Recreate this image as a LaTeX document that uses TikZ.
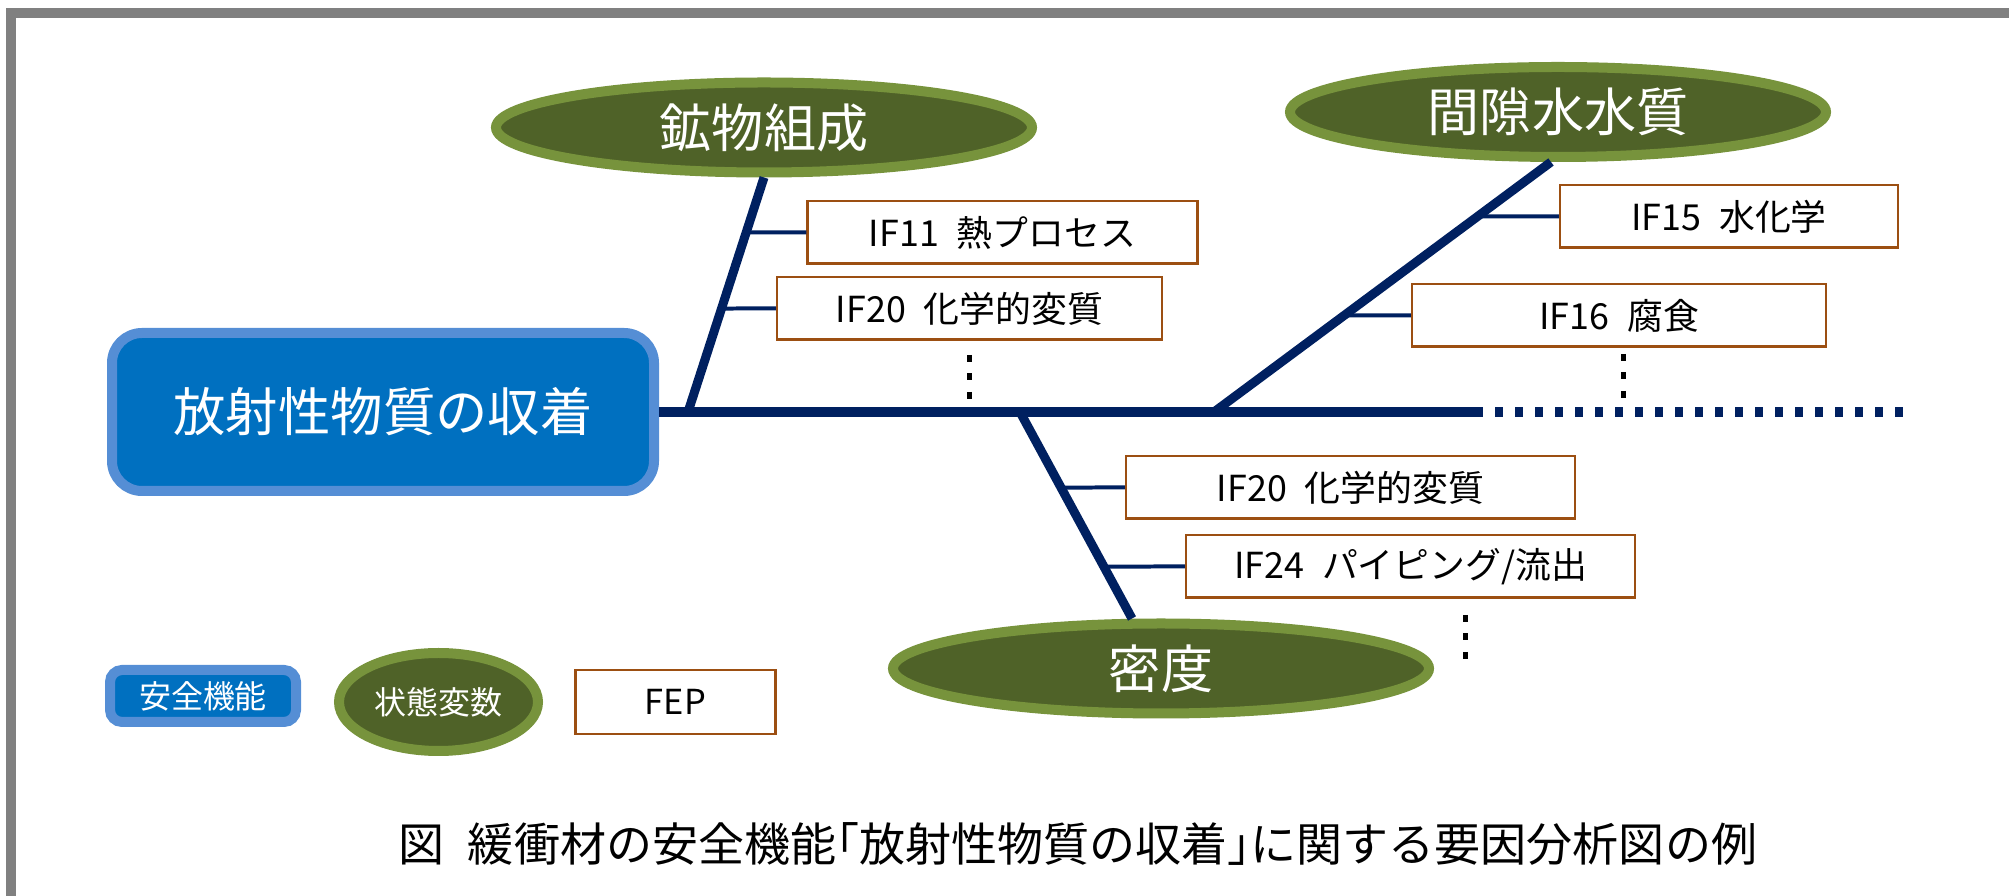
\documentclass[tikz,border=0pt]{standalone}
\usepackage{fontspec}
\usepackage{xcolor}
\newfontfamily\jpfont{Noto Sans CJK JP}
\newfontfamily\jpcapfont[RawFeature=+halt]{Noto Sans CJK JP}
\usetikzlibrary{shapes.geometric, positioning}

\definecolor{safeblue}{HTML}{0070C0}
\definecolor{safeedge}{HTML}{558ED5}
\definecolor{stategreen}{HTML}{4F6228}
\definecolor{stateedge}{HTML}{77933C}
\definecolor{bonenavy}{HTML}{002060}
\definecolor{fepedge}{HTML}{9C4F12}
\definecolor{framegray}{HTML}{808080}

\tikzset{
  safety/.style={draw=safeedge, fill=safeblue, line width=0.1cm, rounded corners=0.3cm, text=white, inner sep=0pt},
  statevar/.style={ellipse, draw=stateedge, fill=stategreen, line width=0.1cm, text=white, inner sep=0pt, minimum width=5.36cm, minimum height=0.9cm, font=\jpfont\fontsize{14.8pt}{18pt}\selectfont},
  fep/.style={draw=fepedge, fill=white, line width=0.025cm, inner sep=0pt, minimum height=0.625cm, font=\jpfont\fontsize{10.2pt}{12pt}\selectfont},
  bone/.style={draw=bonenavy, line width=0.09cm},
  twig/.style={draw=bonenavy, line width=0.04cm},
  vdots/.style={line width=0.05cm, dash pattern=on 0.07cm off 0.115cm}
}

\begin{document}
\begin{tikzpicture}
    \useasboundingbox (0,0) rectangle (20.09,-8.96);
    % Frame
    \draw[framegray, line width=0.1cm] (0.11,-8.96) -- (0.11,-0.135) -- (20.09,-0.135);

    % Safety function and state variables
    \node[safety, minimum width=5.42cm, minimum height=1.58cm, font=\jpfont\fontsize{14.9pt}{18pt}\selectfont] (sorp) at (3.83,-4.12) {放射性物質の収着};
    \node[statevar] (mineral) at (7.64,-1.275) {鉱物組成};
    \node[statevar] (porewater) at (15.58,-1.12) {間隙水水質};
    \node[statevar] (density) at (11.61,-6.685) {密度};

    % Spine
    \coordinate (solidend) at (14.83,-4.12);
    \coordinate (tail) at (19.12,-4.12);
    \draw[draw=bonenavy, line width=0.1cm] (sorp.east) -- (solidend);
    \draw[draw=bonenavy, line width=0.1cm, dash pattern=on 0.08cm off 0.12cm, dash phase=0.08cm] (solidend) -- (tail);

    % Branches
    \coordinate (b1) at (6.88,-4.12);
    \coordinate (b2) at (12.14,-4.12);
    \coordinate (b3) at (10.20,-4.12);
    \coordinate (t1) at (mineral.south);
    \coordinate (t2) at ([xshift=-0.07cm]porewater.south);
    \coordinate (t3) at ([xshift=-0.29cm]density.north);
    \draw[bone] (b1) -- (t1);
    \draw[bone] (b2) -- (t2);
    \draw[bone] (b3) -- (t3);

    % FEP boxes
    \node[fep, minimum width=3.9cm] (if11) at (10.025,-2.325) {IF11\enspace 熱プロセス};
    \node[fep, minimum width=3.85cm] (if20a) at (9.695,-3.085) {IF20\enspace 化学的変質};
    \node[fep, minimum width=3.38cm] (if15) at (17.29,-2.165) {IF15\enspace 水化学};
    \node[fep, minimum width=4.14cm] (if16) at (16.19,-3.155) {IF16\enspace 腐食};
    \node[fep, minimum width=4.49cm] (if20b) at (13.505,-4.875) {IF20\enspace 化学的変質};
    \node[fep, minimum width=4.49cm] (if24) at (14.105,-5.665) {IF24\enspace パイピング/流出};

    % Twigs
    \draw[twig] (if11.west) -- (intersection of b1--t1 and if11.west--if11.east);
    \draw[twig] (if20a.west) -- (intersection of b1--t1 and if20a.west--if20a.east);
    \draw[twig] (if15.west) -- (intersection of b2--t2 and if15.west--if15.east);
    \draw[twig] (if16.west) -- (intersection of b2--t2 and if16.west--if16.east);
    \draw[twig] (if20b.west) -- (intersection of b3--t3 and if20b.west--if20b.east);
    \draw[twig] (if24.west) -- (intersection of b3--t3 and if24.west--if24.east);

    % More factors
    \draw[vdots] ([yshift=-0.14cm]if20a.south) -- ++(0,-0.44);
    \draw[vdots] ([xshift=0.04cm,yshift=-0.06cm]if16.south) -- ++(0,-0.44);
    \draw[vdots] ([xshift=0.55cm,yshift=-0.16cm]if24.south) -- ++(0,-0.44);

    % Legend
    \node[safety, rounded corners=0.12cm, minimum width=1.86cm, minimum height=0.52cm, font=\jpfont\fontsize{9.1pt}{11pt}\selectfont] (lgsafety) at (2.03,-6.96) {安全機能};
    \node[statevar, minimum width=1.99cm, minimum height=0.98cm, right=0.33cm of lgsafety, yshift=-0.06cm, font=\jpfont\fontsize{9.1pt}{11pt}\selectfont] (lgstate) {状態変数};
    \node[fep, minimum width=2.0cm, minimum height=0.64cm, right=0.31cm of lgstate, font=\jpfont\fontsize{9.8pt}{12pt}\selectfont] (lgfep) {FEP};

    % Caption
    \node[font=\jpcapfont\fontsize{13.1pt}{16pt}\selectfont, inner sep=0pt] (caption) at (10.78,-8.44) {図\enspace 緩衝材の安全機能「放射性物質の収着」に関する要因分析図の例};
\end{tikzpicture}
\end{document}
